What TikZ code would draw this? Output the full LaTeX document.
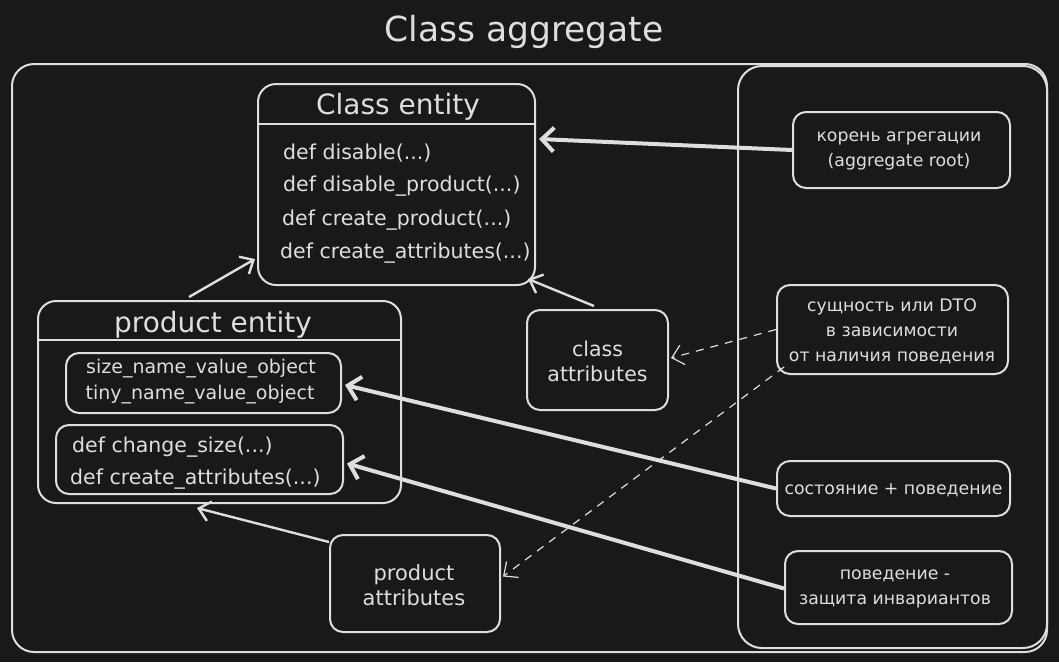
\documentclass[tikz,border=0pt]{standalone}
\usepackage{fontspec}
\setmainfont{DejaVu Sans}
\usetikzlibrary{arrows.meta,calc}
\definecolor{bg}{HTML}{18191B}
\definecolor{ink}{HTML}{DEDEDE}
\begin{document}
\begin{tikzpicture}[x=1pt,y=-1pt,
  box/.style={draw=ink,line width=2pt,rounded corners=18pt,inner sep=0pt},
  sbox/.style={draw=ink,line width=2pt,rounded corners=13pt,inner sep=0pt},
  txt/.style={text=ink,inner sep=0pt,font=\fontsize{19}{21}\selectfont},
  mtxt/.style={text=ink,inner sep=0pt,anchor=west,font=\fontsize{20.5}{22}\selectfont},
  lbl/.style={text=ink,inner sep=0pt,align=center,font=\fontsize{17.3}{25}\selectfont},
  thin/.style={draw=ink,line width=2.4pt,-{Straight Barb[length=11pt,width=20pt]}},
  thick/.style={draw=ink,line width=4pt,-{Straight Barb[length=12pt,width=24pt]}},
  dsh/.style={draw=ink,line width=1.2pt,dash pattern=on 8pt off 7pt,-{Straight Barb[length=11pt,width=20pt]}}]
\fill[bg] (0,0) rectangle (1059,662);
\useasboundingbox (0,0) rectangle (1059,662);

% title
\node[txt,font=\fontsize{34.5}{40}\selectfont] (title) at (524,32) {Class aggregate};

% frames
\node[box,rounded corners=22pt,minimum width=1035pt,minimum height=588pt] (outer) at (529.5,358) {};
\node[box,rounded corners=24pt,minimum width=309pt,minimum height=582pt] (panel) at (892.5,357) {};

% class entity
\node[box,minimum width=277pt,minimum height=201pt] (ce) at (396.5,184.5) {};
\draw[ink,line width=2pt] ($(ce.north west)+(0,41)$) -- ($(ce.north east)+(0,41)$);
\node[txt,font=\fontsize{28}{30}\selectfont] (cet) at (398,107) {Class entity};
\node[mtxt] (m1) at (283,153) {def disable(...)};
\node[mtxt] (m2) at (283,186) {def disable\_product(...)};
\node[mtxt] (m3) at (282,220) {def create\_product(...)};
\node[mtxt] (m4) at (280,253) {def create\_attributes(...)};

% product entity
\node[box,minimum width=363pt,minimum height=202pt] (pe) at (219.5,402) {};
\draw[ink,line width=2pt] ($(pe.north west)+(0,40)$) -- ($(pe.north east)+(0,40)$);
\node[txt,font=\fontsize{28}{30}\selectfont] (pet) at (213,325) {product entity};
\node[sbox,minimum width=275pt,minimum height=60pt] (in1) at (203.5,383) {};
\node[txt] (v1) at (201,369) {size\_name\_value\_object};
\node[txt] (v2) at (200,395) {tiny\_name\_value\_object};
\node[sbox,minimum width=287pt,minimum height=69pt] (in2) at (199.5,459.5) {};
\node[mtxt] (p1) at (72,447) {def change\_size(...)};
\node[mtxt] (p2) at (70,479) {def create\_attributes(...)};

% attributes
\node[sbox,minimum width=141pt,minimum height=100pt] (ca) at (597.5,360) {};
\node[lbl,font=\fontsize{20.5}{25}\selectfont] (cat) at (597.5,361) {class\\attributes};
\node[sbox,minimum width=170pt,minimum height=97pt] (pa) at (415,583.5) {};
\node[lbl,font=\fontsize{21}{25}\selectfont] (pat) at (414,585) {product\\attributes};

% right labels
\node[sbox,minimum width=217pt,minimum height=76pt] (koren) at (901.5,150) {};
\node[lbl] (kt) at (899,151) {корень агрегации\\(aggregate root)};
\node[sbox,minimum width=231pt,minimum height=89pt] (dto) at (892.5,329.5) {};
\node[lbl] (dt) at (892,331) {сущность или DTO\\в зависимости\\от наличия поведения};
\node[sbox,minimum width=233pt,minimum height=55pt] (state) at (893.5,488.5) {};
\node[lbl] (st) at (893.5,490) {состояние + поведение};
\node[sbox,minimum width=227pt,minimum height=73pt] (behav) at (898.5,587.5) {};
\node[lbl] (bt) at (895,589) {поведение -\\защита инвариантов};

% connectors
\draw[thick] (koren.west) -- ($(ce.north east)+(3,56)$);
\draw[thin] ($(pe.north west)+(152,-3)$) -- ($(ce.south west)+(-2,-27)$);
\draw[thin] ($(ca.north west)+(68,-3)$) -- ($(ce.south east)+(-8,-7)$);
\draw[dsh] (dto.west) -- ($(ca.east)+(2,-2)$);
\draw[dsh] ($(dto.south west)+(8,-8)$) -- ($(pa.east)+(2,-7)$);
\draw[thick] (state.west) -- ($(in1.east)+(3,2)$);
\draw[thick] ($(behav.west)+(0,1)$) -- ($(in2.east)+(3,4)$);
\draw[thin] ($(pa.north west)+(0,8)$) -- ($(pe.south west)+(160,4)$);
\end{tikzpicture}
\end{document}
